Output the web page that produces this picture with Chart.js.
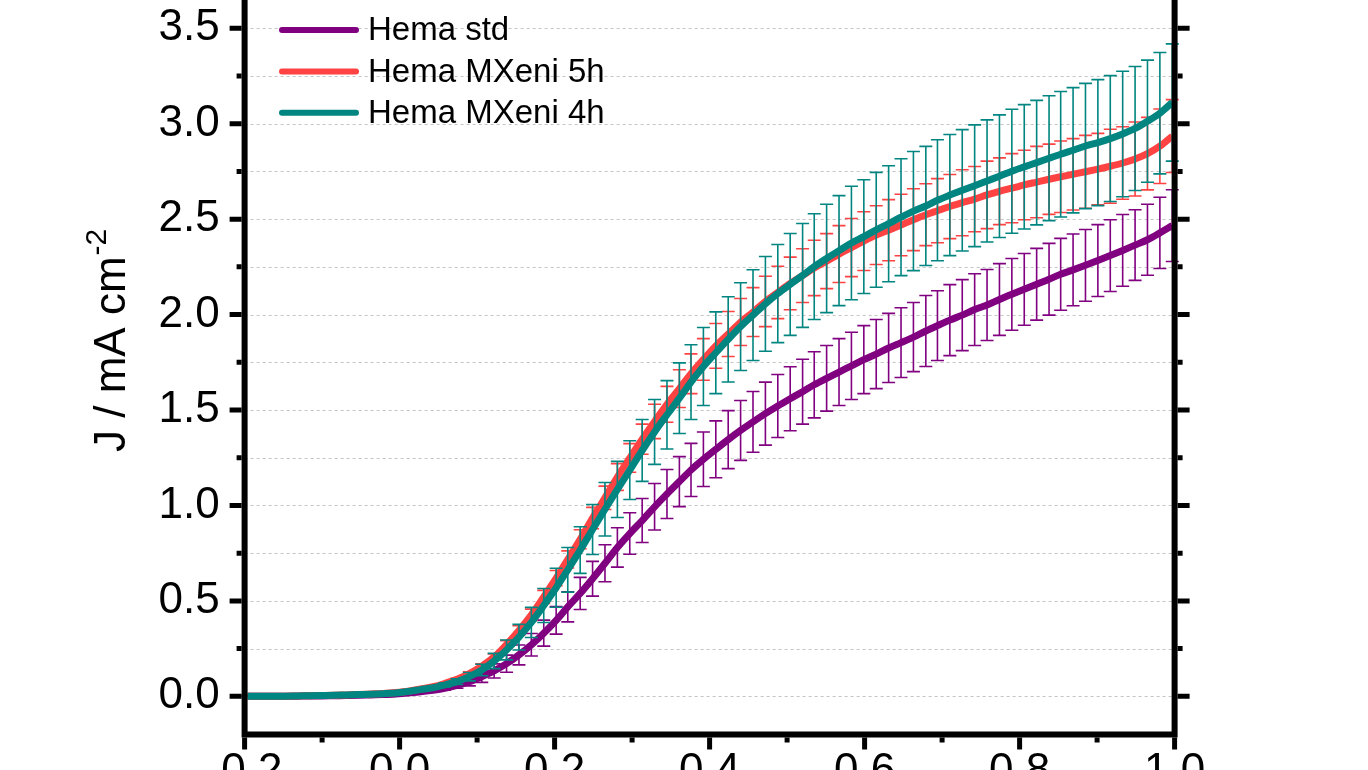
<!DOCTYPE html>
<html>
<head>
<meta charset="utf-8">
<title>J-V curves</title>
<script src="https://cdn.jsdelivr.net/npm/chart.js@4.4.1/dist/chart.umd.min.js"></script>
<style>
  html, body { margin: 0; padding: 0; background: #fff; overflow: hidden; }
  #wrap { width: 1368px; height: 770px; }
</style>
</head>
<body>
<div id="wrap"><canvas id="jvChart" width="1368" height="770"></canvas></div>
<script>
const FONT = "'Liberation Sans', Arial, sans-serif";

// potential (V) at each error bar position
const voltage = [-0.196, -0.180, -0.164, -0.148, -0.132, -0.117, -0.101, -0.085, -0.069, -0.053, -0.037, -0.021, -0.005,
  0.011, 0.027, 0.043, 0.058, 0.074, 0.090, 0.106, 0.122, 0.138, 0.154, 0.170, 0.186, 0.202, 0.217, 0.233, 0.249,
  0.265, 0.281, 0.297, 0.313, 0.329, 0.345, 0.361, 0.376, 0.392, 0.408, 0.424, 0.440, 0.456, 0.472, 0.488, 0.504,
  0.520, 0.535, 0.551, 0.567, 0.583, 0.599, 0.615, 0.631, 0.647, 0.663, 0.679, 0.694, 0.710, 0.726, 0.742, 0.758,
  0.774, 0.790, 0.806, 0.822, 0.838, 0.853, 0.869, 0.885, 0.901, 0.917, 0.933, 0.949, 0.965, 0.981, 0.997];

// Hema std
const stdJ = [0.000, 0.000, 0.000, 0.001, 0.001, 0.002, 0.002, 0.003, 0.004, 0.005, 0.007, 0.009, 0.012, 0.017,
  0.024, 0.032, 0.042, 0.058, 0.077, 0.103, 0.133, 0.171, 0.217, 0.270, 0.331, 0.398, 0.469, 0.539, 0.616, 0.697,
  0.780, 0.853, 0.921, 0.993, 1.060, 1.125, 1.186, 1.242, 1.294, 1.345, 1.393, 1.438, 1.481, 1.521, 1.559, 1.596,
  1.632, 1.666, 1.699, 1.731, 1.764, 1.793, 1.825, 1.853, 1.882, 1.914, 1.942, 1.971, 1.997, 2.026, 2.050, 2.079,
  2.106, 2.132, 2.159, 2.185, 2.211, 2.234, 2.258, 2.283, 2.309, 2.336, 2.364, 2.392, 2.428, 2.466];
const stdErr = [0, 0, 0, 0, 0, 0, 0, 0, 0.001, 0.001, 0.001, 0.002, 0.002, 0.003,
  0.004, 0.006, 0.010, 0.016, 0.022, 0.030, 0.037, 0.045, 0.052, 0.059, 0.068, 0.072, 0.079, 0.084, 0.091, 0.097,
  0.103, 0.109, 0.115, 0.122, 0.128, 0.131, 0.139, 0.143, 0.149, 0.152, 0.157, 0.159, 0.165, 0.165, 0.168, 0.170,
  0.173, 0.172, 0.175, 0.176, 0.178, 0.181, 0.181, 0.183, 0.181, 0.186, 0.183, 0.186, 0.186, 0.188, 0.186, 0.188,
  0.188, 0.188, 0.188, 0.188, 0.188, 0.188, 0.188, 0.188, 0.188, 0.188, 0.185, 0.186, 0.187, 0.188];

// Hema MXeni 5h
const mx5J = [0.000, 0.000, 0.001, 0.001, 0.002, 0.003, 0.004, 0.005, 0.007, 0.009, 0.012, 0.015, 0.020, 0.027,
  0.038, 0.050, 0.067, 0.089, 0.119, 0.158, 0.206, 0.272, 0.345, 0.427, 0.521, 0.619, 0.717, 0.823, 0.934, 1.040,
  1.149, 1.249, 1.347, 1.440, 1.530, 1.612, 1.690, 1.765, 1.836, 1.898, 1.961, 2.013, 2.069, 2.116, 2.163, 2.204,
  2.244, 2.280, 2.317, 2.351, 2.385, 2.416, 2.442, 2.469, 2.497, 2.523, 2.544, 2.566, 2.586, 2.605, 2.627, 2.646,
  2.662, 2.679, 2.694, 2.709, 2.722, 2.735, 2.748, 2.762, 2.777, 2.794, 2.815, 2.843, 2.882, 2.935];
const mx5Err = [0, 0, 0, 0, 0, 0, 0, 0.001, 0.001, 0.001, 0.001, 0.001, 0.002, 0.002,
  0.002, 0.003, 0.004, 0.006, 0.009, 0.012, 0.016, 0.020, 0.025, 0.030, 0.034, 0.040, 0.045, 0.050, 0.056, 0.061,
  0.070, 0.075, 0.079, 0.090, 0.094, 0.099, 0.104, 0.109, 0.117, 0.118, 0.123, 0.128, 0.132, 0.137, 0.138, 0.141,
  0.145, 0.144, 0.149, 0.152, 0.154, 0.154, 0.160, 0.161, 0.162, 0.162, 0.168, 0.168, 0.173, 0.171, 0.177, 0.175,
  0.181, 0.182, 0.187, 0.184, 0.187, 0.187, 0.191, 0.187, 0.194, 0.190, 0.194, 0.190, 0.195, 0.191];

// Hema MXeni 4h
const mx4J = [0.000, 0.000, 0.001, 0.001, 0.002, 0.003, 0.004, 0.005, 0.007, 0.009, 0.011, 0.014, 0.018, 0.025,
  0.035, 0.045, 0.059, 0.077, 0.103, 0.138, 0.185, 0.243, 0.310, 0.387, 0.476, 0.569, 0.663, 0.766, 0.874, 0.980,
  1.084, 1.185, 1.288, 1.385, 1.475, 1.562, 1.646, 1.728, 1.800, 1.870, 1.937, 1.997, 2.056, 2.110, 2.158, 2.205,
  2.251, 2.294, 2.335, 2.375, 2.408, 2.444, 2.476, 2.510, 2.542, 2.569, 2.599, 2.626, 2.651, 2.675, 2.700, 2.725,
  2.751, 2.774, 2.796, 2.819, 2.840, 2.861, 2.883, 2.901, 2.922, 2.946, 2.975, 3.013, 3.055, 3.111];
const mx4Err = [0, 0, 0, 0, 0, 0, 0.001, 0.001, 0.001, 0.001, 0.002, 0.002, 0.003, 0.003,
  0.004, 0.006, 0.010, 0.015, 0.022, 0.030, 0.040, 0.052, 0.067, 0.079, 0.089, 0.102, 0.117, 0.122, 0.131, 0.140,
  0.147, 0.154, 0.162, 0.170, 0.179, 0.185, 0.196, 0.204, 0.214, 0.223, 0.230, 0.238, 0.248, 0.257, 0.267, 0.272,
  0.277, 0.284, 0.288, 0.297, 0.298, 0.301, 0.304, 0.306, 0.312, 0.312, 0.317, 0.317, 0.318, 0.319, 0.320, 0.321,
  0.325, 0.326, 0.326, 0.327, 0.329, 0.328, 0.328, 0.330, 0.330, 0.329, 0.325, 0.320, 0.318, 0.307];

const seriesNames = ["Hema std", "Hema MXeni 5h", "Hema MXeni 4h"];
const seriesColors = ["#800080", "#FF4343", "#008580"];
const yTitle = "J / mA cm";
const yTitleSup = "-2";

function toPoints(ys) {
    return voltage.map((v, i) => ({ x: v, y: ys[i] }));
}

function makeDataset(i, ys, errs) {
    return {
        label: seriesNames[i],
        data: toPoints(ys),
        errors: errs,
        borderColor: seriesColors[i],
        borderWidth: 7,
        pointRadius: 0,
        cubicInterpolationMode: "monotone",
        fill: false,
        order: 3 - i   // last series ends up on top
    };
}

// dotted horizontal grid lines at every y tick
const gridLines = {
    id: "gridLines",
    beforeDatasetsDraw(chart) {
        const { ctx, chartArea } = chart;
        const y = chart.scales.y;
        ctx.save();
        ctx.strokeStyle = "#c4c4c4";
        ctx.lineWidth = 1;
        ctx.setLineDash([3, 3]);
        y.ticks.forEach(t => {
            const py = Math.round(y.getPixelForValue(t.value)) + 0.5;
            ctx.beginPath();
            ctx.moveTo(chartArea.left, py);
            ctx.lineTo(chartArea.right, py);
            ctx.stroke();
        });
        ctx.restore();
    }
};

// error bars drawn just before each line
const errorBars = {
    id: "errorBars",
    beforeDatasetDraw(chart, args) {
        const ds = chart.data.datasets[args.index];
        if (!ds.errors) return;
        const { ctx } = chart;
        const x = chart.scales.x;
        const y = chart.scales.y;
        const cap = 6.5;
        ctx.save();
        ctx.strokeStyle = ds.borderColor;
        ctx.lineWidth = 1.6;
        ds.data.forEach((p, i) => {
            const e = ds.errors[i];
            const px = x.getPixelForValue(p.x);
            const top = y.getPixelForValue(p.y + e);
            const bot = y.getPixelForValue(p.y - e);
            ctx.beginPath();
            ctx.moveTo(px, top);
            ctx.lineTo(px, bot);
            ctx.moveTo(px - cap, top);
            ctx.lineTo(px + cap, top);
            ctx.moveTo(px - cap, bot);
            ctx.lineTo(px + cap, bot);
            ctx.stroke();
        });
        ctx.restore();
    }
};

// thick frame with outward major / minor ticks
const frame = {
    id: "frame",
    afterDraw(chart) {
        const { ctx, chartArea } = chart;
        const { left, right, top, bottom } = chartArea;
        const x = chart.scales.x;
        const y = chart.scales.y;
        const spine = 6;
        const half = spine / 2;
        ctx.save();
        ctx.strokeStyle = "#000";
        ctx.lineCap = "butt";

        ctx.lineWidth = spine;
        ctx.beginPath();
        ctx.moveTo(left, top);
        ctx.lineTo(left, bottom + half);
        ctx.moveTo(left - half, bottom);
        ctx.lineTo(right + half, bottom);
        ctx.moveTo(right, bottom + half);
        ctx.lineTo(right, top);
        ctx.stroke();

        ctx.lineWidth = 5;
        x.ticks.forEach(t => {
            const px = x.getPixelForValue(t.value);
            const major = Math.round(t.value * 10) % 2 === 0;
            const len = major ? 12 : 5;
            ctx.beginPath();
            ctx.moveTo(px, bottom + half);
            ctx.lineTo(px, bottom + half + len);
            ctx.stroke();
        });
        y.ticks.forEach(t => {
            const py = y.getPixelForValue(t.value);
            const major = Math.round(t.value * 4) % 2 === 0;
            const len = major ? 12 : 5;
            ctx.beginPath();
            ctx.moveTo(left - half, py);
            ctx.lineTo(left - half - len, py);
            ctx.moveTo(right + half, py);
            ctx.lineTo(right + half + len, py);
            ctx.stroke();
        });
        ctx.restore();
    }
};

// legend inside the plot, top left
const insideLegend = {
    id: "insideLegend",
    afterDraw(chart) {
        const { ctx } = chart;
        ctx.save();
        ctx.font = "33px " + FONT;
        ctx.textBaseline = "alphabetic";
        ctx.textAlign = "left";
        seriesNames.forEach((name, i) => {
            const ly = 30 + i * 41.4;
            ctx.strokeStyle = seriesColors[i];
            ctx.lineWidth = 6;
            ctx.lineCap = "round";
            ctx.beginPath();
            ctx.moveTo(282, ly);
            ctx.lineTo(356, ly);
            ctx.stroke();
            ctx.fillStyle = "#000";
            ctx.fillText(name, 368, 40 + i * 41.6);
        });
        ctx.restore();
    }
};

// rotated y title with superscript
const yAxisTitle = {
    id: "yAxisTitle",
    afterDraw(chart) {
        const { ctx } = chart;
        ctx.save();
        ctx.translate(124.5, 452);
        ctx.rotate(-Math.PI / 2);
        ctx.fillStyle = "#000";
        ctx.textAlign = "left";
        ctx.textBaseline = "alphabetic";
        ctx.font = "44px " + FONT;
        ctx.fillText(yTitle, 0, 0);
        const w = ctx.measureText(yTitle).width;
        ctx.font = "30px " + FONT;
        ctx.fillText(yTitleSup, w + 1, -19);
        ctx.restore();
    }
};

const ctx = document.getElementById("jvChart").getContext("2d");
new Chart(ctx, {
    type: "line",
    data: {
        datasets: [
            makeDataset(0, stdJ, stdErr),
            makeDataset(1, mx5J, mx5Err),
            makeDataset(2, mx4J, mx4Err)
        ]
    },
    options: {
        responsive: false,
        animation: false,
        devicePixelRatio: 1,
        layout: { padding: { left: 0, top: 0, right: 193.4, bottom: 0 } },
        plugins: {
            legend: { display: false },
            tooltip: { enabled: false }
        },
        scales: {
            x: {
                type: "linear",
                min: -0.2,
                max: 1.0,
                grid: { display: false, drawTicks: false },
                border: { display: false },
                ticks: {
                    stepSize: 0.1,
                    autoSkip: false,
                    maxRotation: 0,
                    padding: 11,
                    color: "#000",
                    font: { family: FONT, size: 44 },
                    callback: v => (Math.round(v * 10) % 2 === 0 ? (Math.round(v * 10) / 10).toFixed(1) : "")
                },
                afterFit(scale) {
                    scale.height = 35.5;
                    scale.paddingLeft = 0;
                    scale.paddingRight = 0;
                }
            },
            y: {
                type: "linear",
                min: -0.2,
                max: 3.648,
                grid: { display: false, drawTicks: false },
                border: { display: false },
                ticks: {
                    stepSize: 0.25,
                    includeBounds: false,
                    autoSkip: false,
                    padding: 25,
                    color: "#000",
                    font: { family: FONT, size: 44 },
                    callback: v => (Math.round(v * 4) % 2 === 0 ? (Math.round(v * 2) / 2).toFixed(1) : "")
                },
                afterFit(scale) {
                    scale.width = 244.6;
                    scale.paddingTop = 0;
                    scale.paddingBottom = 0;
                }
            }
        }
    },
    plugins: [gridLines, errorBars, frame, insideLegend, yAxisTitle]
});
</script>
</body>
</html>
